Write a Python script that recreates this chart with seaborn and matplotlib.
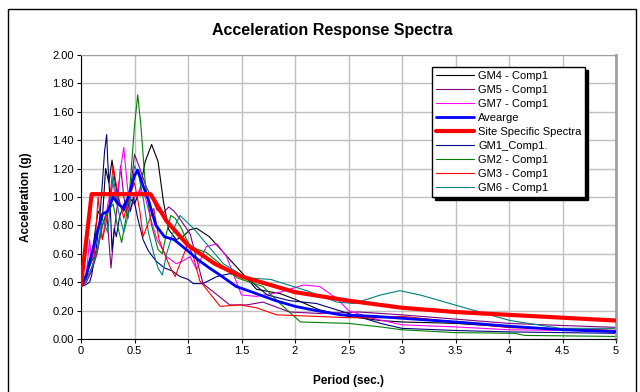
import numpy as np
import matplotlib
matplotlib.use("Agg")
import matplotlib.pyplot as plt
import matplotlib.patches as mpatches
import seaborn as sns

sns.set_style("white")
plt.rcParams['font.family'] = ['Liberation Sans', 'DejaVu Sans']
plt.rcParams['text.color'] = 'black'
plt.rcParams['axes.labelcolor'] = 'black'
plt.rcParams['xtick.color'] = 'black'
plt.rcParams['ytick.color'] = 'black'

# periods (sec.) and spectral accelerations (g)
gm1_t = [0, 0.04, 0.08, 0.1, 0.12, 0.14, 0.16, 0.18, 0.2, 0.22, 0.24, 0.25, 0.27, 0.29, 0.31, 0.33, 0.36,
         0.4, 0.43, 0.46, 0.49, 0.53, 0.58, 0.63, 0.7, 0.78, 0.85, 0.925, 1.0, 1.05, 1.14, 1.27, 1.39,
         1.55, 1.74, 1.95, 2.2, 2.5, 2.8, 3.0, 3.5, 4.0, 4.5, 5.0]
gm1_a = [0.37, 0.38, 0.40, 0.45, 0.55, 0.62, 0.75, 0.90, 1.10, 1.32, 1.44, 1.25, 1.00, 0.62, 0.78, 0.72, 0.86,
         0.95, 0.98, 0.90, 1.00, 0.85, 0.70, 0.62, 0.55, 0.50, 0.48, 0.44, 0.42, 0.39, 0.39, 0.44, 0.46,
         0.43, 0.31, 0.27, 0.25, 0.18, 0.11, 0.075, 0.06, 0.05, 0.045, 0.04]

gm2_t = [0, 0.05, 0.1, 0.15, 0.2, 0.25, 0.3, 0.34, 0.38, 0.42, 0.45, 0.48, 0.5, 0.53, 0.56, 0.6, 0.66,
         0.72, 0.76, 0.8, 0.84, 0.88, 0.93, 1.02, 1.17, 1.3, 1.46, 1.7, 1.86, 2.05, 2.5, 2.8, 3.0, 3.5,
         4.05, 4.15, 5.0]
gm2_a = [0.37, 0.45, 0.55, 0.62, 0.80, 0.90, 0.95, 0.80, 0.68, 0.85, 1.00, 1.30, 1.50, 1.72, 1.50, 1.10, 0.80,
         0.63, 0.60, 0.75, 0.87, 0.85, 0.79, 0.65, 0.61, 0.53, 0.43, 0.37, 0.25, 0.12, 0.11, 0.085, 0.065, 0.045,
         0.04, 0.025, 0.018]

gm3_t = [0, 0.05, 0.1, 0.12, 0.16, 0.2, 0.23, 0.26, 0.3, 0.35, 0.4, 0.45, 0.5, 0.55, 0.58, 0.62, 0.68,
         0.73, 0.77, 0.83, 0.88, 0.925, 1.0, 1.05, 1.11, 1.3, 1.49, 1.64, 1.83, 2.17, 2.5, 2.8, 3.0, 3.5,
         4.0, 4.5, 5.0]
gm3_a = [0.37, 0.42, 0.50, 0.55, 1.00, 0.70, 0.80, 0.92, 1.22, 1.00, 0.85, 1.00, 1.10, 0.90, 0.72, 0.80, 0.92,
         0.70, 0.62, 0.51, 0.44, 0.53, 0.67, 0.58, 0.41, 0.23, 0.24, 0.22, 0.17, 0.16, 0.15, 0.15, 0.16, 0.12,
         0.08, 0.07, 0.06]

gm4_t = [0, 0.05, 0.1, 0.13, 0.16, 0.2, 0.23, 0.26, 0.29, 0.32, 0.36, 0.4, 0.45, 0.5, 0.55, 0.6, 0.66,
         0.72, 0.77, 0.82, 0.89, 0.95, 1.02, 1.08, 1.2, 1.39, 1.5, 1.64, 1.86, 2.0, 2.23, 2.49, 2.8, 3.0,
         3.5, 4.0, 4.5, 5.0]
gm4_a = [0.37, 0.45, 0.55, 0.75, 0.90, 0.85, 1.20, 1.10, 1.26, 1.10, 0.95, 0.90, 1.00, 0.95, 1.05, 1.25, 1.37,
         1.25, 0.97, 0.77, 0.70, 0.72, 0.77, 0.78, 0.72, 0.56, 0.47, 0.35, 0.32, 0.28, 0.205, 0.16, 0.13, 0.12,
         0.11, 0.085, 0.07, 0.06]

gm5_t = [0, 0.05, 0.1, 0.15, 0.2, 0.24, 0.28, 0.31, 0.34, 0.37, 0.4, 0.44, 0.47, 0.5, 0.55, 0.61, 0.66,
         0.71, 0.76, 0.82, 0.87, 0.93, 1.02, 1.14, 1.39, 1.55, 1.7, 1.95, 2.23, 2.6, 3.0, 3.5, 4.0, 4.5, 5.0]
gm5_a = [0.37, 0.40, 0.48, 0.60, 0.80, 0.90, 0.50, 0.75, 0.95, 1.22, 1.00, 0.85, 1.10, 1.30, 1.20, 1.07, 1.00,
         0.91, 0.88, 0.93, 0.90, 0.84, 0.74, 0.39, 0.24, 0.24, 0.26, 0.19, 0.18, 0.19, 0.17, 0.14, 0.11, 0.095, 0.082]

gm7_t = [0, 0.05, 0.08, 0.1, 0.13, 0.17, 0.2, 0.25, 0.3, 0.33, 0.37, 0.4, 0.43, 0.46, 0.5, 0.55, 0.6,
         0.65, 0.71, 0.8, 0.89, 0.95, 1.02, 1.08, 1.17, 1.27, 1.36, 1.5, 1.64, 1.86, 2.08, 2.23, 2.4, 2.5,
         2.7, 3.0, 3.5, 4.0, 4.5, 5.0]
gm7_a = [0.37, 0.45, 0.70, 0.55, 0.65, 0.80, 0.70, 0.95, 1.10, 0.95, 1.20, 1.35, 1.10, 0.90, 1.00, 1.05, 1.00,
         0.85, 0.70, 0.58, 0.53, 0.55, 0.58, 0.49, 0.65, 0.67, 0.58, 0.31, 0.30, 0.33, 0.38, 0.37, 0.28, 0.20,
         0.15, 0.10, 0.085, 0.065, 0.06, 0.06]

gm6_t = [0, 0.05, 0.1, 0.15, 0.2, 0.25, 0.3, 0.35, 0.4, 0.45, 0.5, 0.54, 0.58, 0.63, 0.68, 0.72, 0.76,
         0.8, 0.88, 0.925, 1.05, 1.33, 1.55, 1.77, 2.11, 2.39, 2.55, 2.8, 2.98, 3.17, 3.54, 4.01, 4.48, 5.0]
gm6_a = [0.37, 0.42, 0.50, 0.62, 0.85, 0.75, 1.15, 0.90, 0.75, 0.90, 1.22, 1.15, 1.00, 0.75, 0.60, 0.50, 0.45,
         0.60, 0.80, 0.87, 0.78, 0.53, 0.43, 0.42, 0.34, 0.26, 0.25, 0.31, 0.34, 0.31, 0.23, 0.13, 0.075, 0.075]

avg_t = [0, 0.05, 0.1, 0.15, 0.2, 0.25, 0.3, 0.35, 0.4, 0.45, 0.5, 0.53, 0.58, 0.63, 0.7, 0.78, 0.87,
         1.0, 1.09, 1.2, 1.3, 1.45, 1.6, 1.82, 2.0, 2.2, 2.43, 2.73, 3.0, 3.5, 4.0, 4.5, 5.0]
avg_a = [0.37, 0.45, 0.60, 0.75, 0.88, 0.90, 1.00, 0.95, 0.92, 1.02, 1.15, 1.19, 1.08, 0.98, 0.80, 0.72, 0.70,
         0.62, 0.56, 0.50, 0.45, 0.37, 0.33, 0.27, 0.23, 0.20, 0.17, 0.16, 0.146, 0.12, 0.09, 0.065, 0.052]

site_t = [0, 0.1, 0.65, 0.8, 1.0, 1.25, 1.5, 2.0, 2.5, 3.0, 3.5, 4.0, 4.5, 5.0]
site_a = [0.38, 1.02, 1.02, 0.83, 0.66, 0.53, 0.44, 0.33, 0.27, 0.22, 0.19, 0.17, 0.15, 0.13]

fig = plt.figure(figsize=(6.4, 3.92), dpi=100)
ax = fig.add_axes([81 / 640, 1 - 339 / 392, 535 / 640, 284 / 392])

ax.set_xlim(0, 5)
ax.set_ylim(0, 2)
ax.set_xticks(np.arange(0, 5.01, 0.5))
ax.set_xticklabels(["0", "0.5", "1", "1.5", "2", "2.5", "3", "3.5", "4", "4.5", "5"])
ax.set_yticks(np.arange(0, 2.01, 0.2))
ax.set_yticklabels(["%.2f" % v for v in np.arange(0, 2.01, 0.2)])
ax.grid(True, color="#c0c0c0", linewidth=1.0)
ax.set_axisbelow(True)

lw = 0.8
sns.lineplot(x=gm4_t, y=gm4_a, color="black", lw=lw, ax=ax, label="GM4 - Comp1")
sns.lineplot(x=gm5_t, y=gm5_a, color="#800080", lw=lw, ax=ax, label="GM5 - Comp1")
sns.lineplot(x=gm7_t, y=gm7_a, color="#ff00ff", lw=lw, ax=ax, label="GM7 - Comp1")
sns.lineplot(x=avg_t, y=avg_a, color="#0000ff", lw=2.0, ax=ax, label="Avearge")
sns.lineplot(x=site_t, y=site_a, color="#ff0000", lw=3.0, ax=ax, label="Site Specific Spectra")
sns.lineplot(x=gm1_t, y=gm1_a, color="#000080", lw=lw, ax=ax, label="GM1_Comp1.")
sns.lineplot(x=gm2_t, y=gm2_a, color="#008000", lw=lw, ax=ax, label="GM2 - Comp1")
sns.lineplot(x=gm3_t, y=gm3_a, color="#ff0000", lw=lw, ax=ax, label="GM3 - Comp1")
sns.lineplot(x=gm6_t, y=gm6_a, color="#008080", lw=lw, ax=ax, label="GM6 - Comp1")

# keep the thick lines on top of the component records
for line in ax.get_lines():
    if line.get_linewidth() > 1.5:
        line.set_zorder(4)

for s in ["top", "right"]:
    ax.spines[s].set_color("#a0a0a0")
ax.spines["right"].set_linewidth(2)
ax.spines["left"].set_color("black")
ax.spines["bottom"].set_color("black")
ax.tick_params(axis="both", which="major", direction="out", length=3, width=0.8,
               color="black", labelsize=8, pad=2, left=True, bottom=True)

ax.set_xlabel("Period (sec.)", fontsize=8.5, fontweight="bold", labelpad=14)
ax.set_ylabel("Acceleration (g)", fontsize=8.5, fontweight="bold", labelpad=15)

leg = ax.legend(loc="upper left", bbox_to_anchor=((432 - 81) / 535, (339 - 67) / 284),
                borderaxespad=0, fontsize=8, frameon=True, fancybox=False,
                edgecolor="black", framealpha=1, handlelength=3.4, handletextpad=0.4,
                labelspacing=0.36, borderpad=0.35,
                shadow={"color": "black", "alpha": 1})
leg.get_frame().set_linewidth(1.0)

fig.text(332 / 640, 1 - 31 / 392, "Acceleration Response Spectra", ha="center", va="center",
         fontsize=11.5, fontweight="bold")

fig.patches.append(mpatches.Rectangle((8 / 640, -0.05), 628 / 640, 1 - 9 / 392 + 0.05,
                                      transform=fig.transFigure, fill=False,
                                      edgecolor="black", linewidth=1.0))

fig.savefig("out.png", dpi=100)
